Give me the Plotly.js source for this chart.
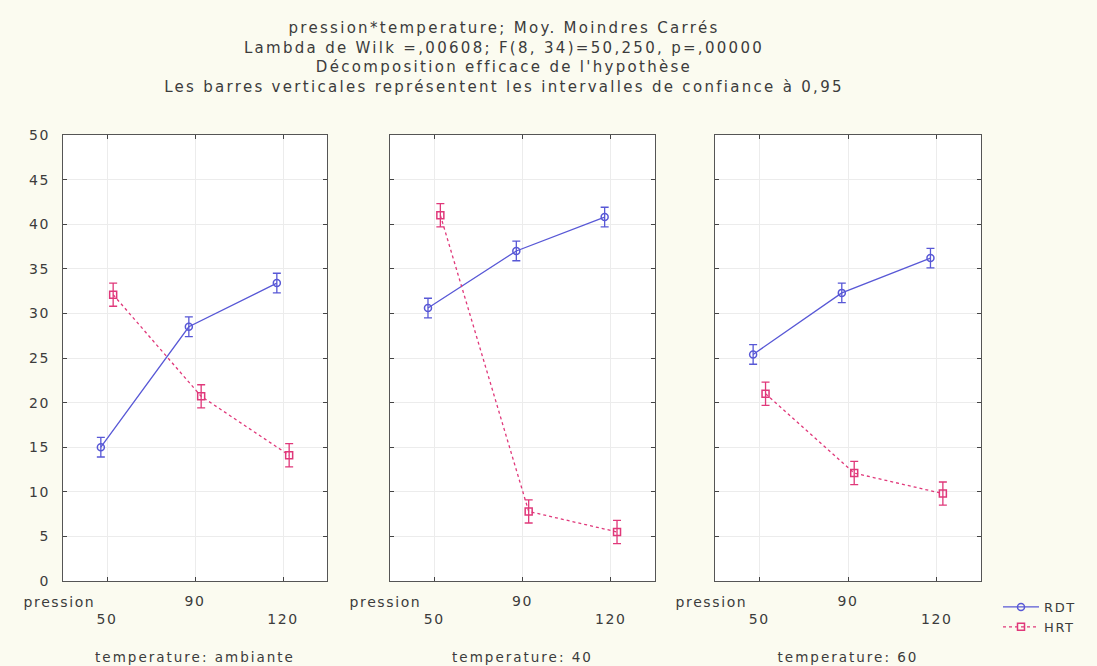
<!DOCTYPE html>
<html>
<head>
<meta charset="utf-8">
<script src="https://cdn.plot.ly/plotly-3.0.1.min.js"></script>
<style>
html,body{margin:0;padding:0;background:#fbfbf0;}
#chart{width:1097px;height:666px;}
.main-svg text{letter-spacing:1.6px;}
.main-svg .gtitle{letter-spacing:2.3px;}
.main-svg .g-xtitle text,.main-svg .g-x2title text,.main-svg .g-x3title text{letter-spacing:2px;}
</style>
</head>
<body>
<div id="chart"></div>
<script>
// ---- data ----
const pressionLevels = [50, 90, 120];
const pressionTickText = ["<br>50", "90", "<br>120"];
const temperatureLabels = ["temperature: ambiante", "temperature: 40", "temperature: 60"];
const seriesNames = ["RDT", "HRT"];
// means per temperature panel (ambiante, 40, 60), per pression (50, 90, 120)
const rdtMeans = [
  [15.0, 28.5, 33.4],
  [30.6, 37.0, 40.8],
  [25.4, 32.3, 36.2]
];
const hrtMeans = [
  [32.1, 20.7, 14.1],
  [41.0, 7.8, 5.5],
  [21.0, 12.1, 9.8]
];
// half-width of 95% confidence intervals
const rdtCI = [
  [1.1, 1.1, 1.1],
  [1.1, 1.1, 1.1],
  [1.1, 1.1, 1.1]
];
const hrtCI = [
  [1.3, 1.3, 1.3],
  [1.3, 1.3, 1.3],
  [1.3, 1.3, 1.3]
];
const titleLines = [
  "pression*temperature; Moy. Moindres Carrés",
  "Lambda de Wilk =,00608; F(8, 34)=50,250, p=,00000",
  "Décomposition efficace de l'hypothèse",
  "Les barres verticales représentent les intervalles de confiance à 0,95"
];

// ---- styling ----
const W = 1097, H = 666;
const FONT = "DejaVu Sans, Verdana, sans-serif";
const TXT = "#3c3c3c";
const BLUE = "#5858d6";
const RED = "#e0387a";
const panelPx = [[63, 327], [390, 655], [715, 981]];
const plotTop = 135, plotBottom = 581;
const offset = 0.07;
const catIdx = pressionLevels.map((p, i) => i + 1);

const traces = [];
const layout = {
  width: W, height: H,
  margin: {l: 0, r: 0, t: 0, b: 0},
  paper_bgcolor: "#fbfbf0",
  plot_bgcolor: "#ffffff",
  font: {family: FONT, size: 13, color: TXT},
  title: {
    text: titleLines.join("<br>"),
    x: 504 / W, xanchor: "center",
    y: 1 - 33 / H, yanchor: "top",
    xref: "paper", yref: "paper",
    font: {family: FONT, size: 15, color: TXT}
  },
  showlegend: true,
  legend: {
    x: 998 / W, y: 1 - 592 / H, xanchor: "left", yanchor: "top",
    bgcolor: "rgba(0,0,0,0)",
    font: {family: FONT, size: 13, color: TXT},
    tracegroupgap: 0, itemwidth: 36
  },
  annotations: []
};

for (let p = 0; p < 3; p++) {
  const sfx = p === 0 ? "" : String(p + 1);
  const xa = "x" + sfx, ya = "y" + sfx;
  traces.push({
    type: "scatter", mode: "lines+markers", name: seriesNames[0],
    x: catIdx.map(v => v - offset), y: rdtMeans[p],
    xaxis: xa, yaxis: ya,
    line: {color: BLUE, width: 1.3},
    marker: {symbol: "circle-open", size: 7, color: BLUE, line: {width: 1.5, color: BLUE}},
    error_y: {type: "data", array: rdtCI[p], visible: true, color: BLUE, thickness: 1.3, width: 4},
    legendgroup: "rdt", showlegend: p === 0
  });
  traces.push({
    type: "scatter", mode: "lines+markers", name: seriesNames[1],
    x: catIdx.map(v => v + offset), y: hrtMeans[p],
    xaxis: xa, yaxis: ya,
    line: {color: RED, width: 1.3, dash: "dot"},
    marker: {symbol: "square-open", size: 7, color: RED, line: {width: 1.5, color: RED}},
    error_y: {type: "data", array: hrtCI[p], visible: true, color: RED, thickness: 1.3, width: 4},
    legendgroup: "hrt", showlegend: p === 0
  });
  const [l, r] = panelPx[p];
  layout["xaxis" + sfx] = {
    domain: [l / W, r / W], anchor: ya,
    range: [0.5, 3.5], tickmode: "array",
    tickvals: catIdx, ticktext: pressionTickText,
    showline: true, linecolor: "#555", linewidth: 1.2, mirror: "ticks",
    ticks: "inside", ticklen: 4, tickcolor: "#444",
    showgrid: true, gridcolor: "#ececec", zeroline: false,
    ticklabelstandoff: 7,
    tickfont: {family: FONT, size: 14, color: TXT},
    title: {text: temperatureLabels[p], font: {family: FONT, size: 13.5, color: TXT}, standoff: 26},
    fixedrange: true
  };
  layout["yaxis" + sfx] = {
    domain: [1 - plotBottom / H, 1 - plotTop / H], anchor: xa,
    range: [0, 50], dtick: 5, tick0: 0,
    showline: true, linecolor: "#555", linewidth: 1.2, mirror: "ticks",
    ticks: "inside", ticklen: 4, tickcolor: "#444",
    showgrid: true, gridcolor: "#ececec", zeroline: false,
    showticklabels: p === 0, ticklabelstandoff: 9,
    tickfont: {family: FONT, size: 14, color: TXT},
    fixedrange: true
  };
  layout.annotations.push({
    text: "pression", xref: "paper", yref: "paper",
    x: (l - 4) / W, y: 1 - 602 / H, xanchor: "center", yanchor: "middle",
    showarrow: false, font: {family: FONT, size: 14, color: TXT}
  });
}

Plotly.newPlot("chart", traces, layout, {displayModeBar: false, staticPlot: true});
</script>
</body>
</html>
